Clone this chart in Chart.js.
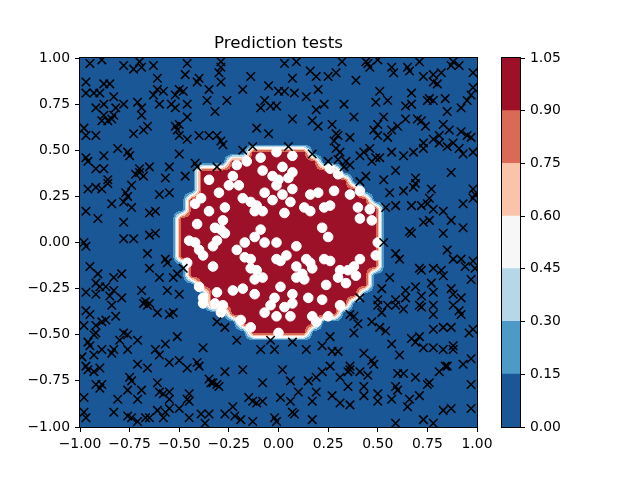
<!DOCTYPE html>
<html>
<head>
<meta charset="utf-8">
<script src="https://cdn.jsdelivr.net/npm/chart.js@4.4.0/dist/chart.umd.min.js"></script>
<style>
html, body { margin: 0; padding: 0; background: #fff; }
#wrap { position: relative; width: 640px; height: 480px; }
#main { position: absolute; left: 0; top: 0; }
#cbar { position: absolute; left: 480px; top: 0; }
</style>
</head>
<body>
<div id="wrap">
<canvas id="main" width="640" height="480"></canvas>
<canvas id="cbar" width="160" height="480"></canvas>
</div>
<script>
// contour levels and colours (RdBu_r)
const levels = [0, 0.15, 0.3, 0.45, 0.6, 0.75, 0.9, 1.05];
const levelColors = ["#195797", "#4e9ac7", "#b6d7e8", "#f7f7f7", "#f9c4a9", "#da6a55", "#9d1128"];

// tick labels
const xTicks = [-1, -0.75, -0.5, -0.25, 0, 0.25, 0.5, 0.75, 1];
const yTicks = [-1, -0.75, -0.5, -0.25, 0, 0.25, 0.5, 0.75, 1];
const cbTicks = [0, 0.15, 0.3, 0.45, 0.6, 0.75, 0.9, 1.05];

// prediction grid: 40 x 40 nodes on [-1, 1], value 1 inside these column ranges
const gridStart = -1;
const gridStep = 2 / 39;
const gridCount = 40;
const maskRows  = [10, 11, 12, 13, 14, 15, 16, 17, 18, 19, 20, 21, 22, 23, 24, 25, 26, 27, 28, 29];
const maskFirst = [17, 16, 15, 13, 13, 12, 11, 11, 10, 10, 10, 10, 10, 11, 11, 12, 12, 12, 15, 17];
const maskLast  = [22, 23, 25, 26, 27, 28, 28, 29, 29, 29, 29, 29, 29, 29, 28, 27, 26, 25, 23, 22];

// test points predicted 0 (x markers)
const crossPoints = [
  [-0.95,0.97],[-0.89,0.99],[-0.78,0.96],[-0.70,0.98],[-0.69,0.95],[-0.73,0.94],[-0.63,0.96],[-0.46,0.97],[-0.47,0.91],[-0.40,0.89],
  [-0.41,0.87],[-0.97,0.87],[-0.88,0.86],[-0.85,0.86],[-0.61,0.89],[-0.35,0.83],[-0.97,0.81],[-0.93,0.81],[-0.90,0.81],[-0.83,0.79],
  [-0.63,0.80],[-0.61,0.83],[-0.58,0.82],[-0.50,0.83],[-0.52,0.80],[-0.48,0.82],[-0.36,0.77],[-0.92,0.73],[-0.88,0.75],[-0.82,0.73],
  [-0.78,0.75],[-0.71,0.76],[-0.69,0.73],[-0.60,0.75],[-0.54,0.75],[-0.52,0.73],[-0.46,0.75],[-0.88,0.69],[-0.84,0.67],[-0.83,0.69],
  [-0.86,0.66],[-0.89,0.66],[-0.69,0.69],[-0.46,0.68],[-0.50,0.64],[-0.52,0.63],[-0.51,0.61],[-0.66,0.63],[-0.68,0.61],[-0.73,0.59],
  [-0.98,0.62],[-0.97,0.58],[-0.92,0.58],[-0.50,0.58],[-0.46,0.56],[-0.40,0.58],[-0.35,0.58],[-0.81,0.51],[-0.76,0.49],[-0.75,0.47],
  [-0.88,0.47],[-0.50,0.48],[-0.97,0.46],[-0.96,0.44],[-0.92,0.40],[-0.88,0.40],[-0.70,0.40],[-0.65,0.41],[-0.55,0.41],[-0.42,0.43],
  [-0.41,0.41],[-0.72,0.37],[-0.70,0.38],[-0.68,0.36],[-0.57,0.35],[-0.47,0.36],[-0.86,0.34],
  [-0.29,0.98],[-0.29,0.95],[-0.30,0.92],[-0.29,0.87],[-0.32,0.71],[-0.26,0.77],[-0.18,0.83],[-0.14,0.90],[-0.05,0.85],[0.00,0.82],
  [0.03,0.82],[0.08,0.81],[0.07,0.89],[0.03,0.97],[0.09,0.98],[0.16,0.93],[0.19,0.90],[0.25,0.90],[0.29,0.92],[0.32,0.98],
  [0.20,0.83],[0.14,0.79],[-0.07,0.77],[-0.09,0.73],[-0.04,0.74],[-0.01,0.74],[0.07,0.67],[0.19,0.72],[0.23,0.75],[0.33,0.75],
  [0.17,0.66],[0.20,0.63],[-0.11,0.62],[-0.05,0.59],[0.27,0.64],[0.29,0.59],[0.30,0.58],[0.28,0.55],[-0.31,0.58],[-0.29,0.55],
  [-0.28,0.53],[-0.18,0.50],[-0.13,0.52],[0.05,0.52],[0.17,0.48],[0.29,0.51],[0.31,0.49],[0.30,0.45],[0.25,0.44],[0.33,0.41],
  [-0.31,0.41],
  [0.44,0.98],[0.46,0.95],[0.50,0.99],[0.45,0.97],[0.57,0.95],[0.58,0.92],[0.65,0.95],[0.66,0.93],[0.71,0.98],[0.88,0.98],
  [0.91,0.96],[0.87,0.96],[0.39,0.88],[0.73,0.90],[0.78,0.91],[0.82,0.92],[0.78,0.87],[0.80,0.86],[0.98,0.92],[0.51,0.82],
  [0.55,0.77],[0.49,0.76],[0.67,0.81],[0.64,0.74],[0.67,0.75],[0.75,0.77],[0.78,0.77],[0.76,0.78],[0.84,0.78],[0.92,0.73],
  [0.95,0.77],[0.97,0.80],[0.98,0.84],[0.85,0.71],[0.38,0.68],[0.53,0.68],[0.50,0.64],[0.48,0.61],[0.50,0.58],[0.55,0.57],
  [0.57,0.61],[0.60,0.63],[0.64,0.67],[0.70,0.67],[0.72,0.66],[0.74,0.63],[0.83,0.64],[0.86,0.61],[0.81,0.58],[0.92,0.60],
  [0.95,0.58],[0.97,0.57],[0.36,0.57],[0.78,0.56],[0.73,0.54],[0.73,0.51],[0.81,0.54],[0.85,0.52],[0.88,0.54],[0.91,0.51],
  [0.98,0.49],[0.93,0.48],[0.46,0.51],[0.49,0.46],[0.47,0.44],[0.41,0.47],[0.43,0.49],[0.57,0.49],[0.63,0.47],[0.68,0.49],
  [0.36,0.42],[0.34,0.44],[0.44,0.36],[0.59,0.39],[0.69,0.35],[0.87,0.38],[0.51,0.46],
  [-0.96,0.29],[-0.92,0.30],[-0.89,0.29],[-0.86,0.32],[-0.74,0.31],[-0.77,0.27],[-0.76,0.25],[-0.78,0.22],[-0.74,0.19],[-0.84,0.21],
  [-0.97,0.17],[-0.91,0.13],[-0.78,0.11],[-0.65,0.16],[-0.62,0.17],[-0.60,0.26],[-0.55,0.27],[-0.78,0.02],[-0.73,0.02],[-0.65,0.04],
  [-0.62,0.05],[-0.98,0.00],[-0.97,-0.02],[-0.66,-0.06],[-0.57,-0.09],[-0.56,-0.11],[-0.95,-0.13],[-0.91,-0.17],[-0.83,-0.19],[-0.79,-0.17],
  [-0.65,-0.14],[-0.60,-0.19],[-0.53,-0.19],[-0.51,-0.17],[-0.48,-0.14],[-0.92,-0.22],[-0.90,-0.24],[-0.87,-0.24],[-0.83,-0.26],[-0.97,-0.27],
  [-0.69,-0.26],[-0.56,-0.26],[-0.50,-0.28],[-0.79,-0.30],[-0.85,-0.29],[-0.92,-0.28],[-0.67,-0.32],[-0.65,-0.33],
  [0.41,0.33],[0.53,0.34],[0.69,0.32],[0.68,0.30],[0.56,0.27],[0.63,0.28],[0.77,0.29],[0.76,0.24],[0.75,0.21],[0.78,0.18],
  [0.83,0.17],[0.87,0.12],[0.59,0.20],[0.54,0.19],[0.67,0.20],[0.72,0.20],[0.73,0.11],[0.76,0.12],[0.66,0.06],[0.67,0.05],
  [0.83,0.05],[0.93,0.08],[0.98,0.24],[0.98,0.29],[0.99,0.26],[0.93,0.21],[0.53,0.00],[0.59,-0.06],[0.61,-0.09],[0.85,-0.04],
  [0.88,-0.09],[0.92,-0.09],[0.94,-0.13],[0.98,-0.10],[0.99,-0.14],[0.71,-0.14],[0.72,-0.15],[0.78,-0.14],[0.82,-0.15],[0.83,-0.18],
  [0.56,-0.19],[0.77,-0.22],[0.69,-0.24],[0.64,-0.26],[0.52,-0.25],[0.87,-0.25],[0.88,-0.28],[0.92,-0.30],[0.78,-0.27],[0.72,-0.29],
  [0.97,-0.20],[0.64,-0.30],[0.59,-0.31],[0.50,-0.31],[0.41,-0.30],
  [-0.97,-0.37],[-0.95,-0.39],[-0.84,-0.34],[-0.82,-0.40],[-0.68,-0.33],[-0.66,-0.34],[-0.61,-0.38],[-0.55,-0.39],[-0.53,-0.38],[-0.98,-0.45],
  [-0.92,-0.45],[-0.92,-0.49],[-0.89,-0.43],[-0.87,-0.42],[-0.93,-0.50],[-0.96,-0.54],[-0.95,-0.56],[-0.78,-0.49],[-0.76,-0.50],[-0.80,-0.53],
  [-0.71,-0.53],[-0.51,-0.51],[-0.38,-0.57],[-0.99,-0.62],[-0.93,-0.61],[-0.89,-0.58],[-0.84,-0.60],[-0.83,-0.58],[-0.76,-0.58],[-0.62,-0.58],
  [-0.60,-0.61],[-0.57,-0.55],[-0.55,-0.65],[-0.50,-0.64],[-0.46,-0.68],[-0.41,-0.65],[-0.40,-0.67],[-0.71,-0.66],[-0.66,-0.68],[-0.97,-0.67],
  [-0.96,-0.69],[-0.90,-0.68],[-0.93,-0.70],[-0.75,-0.73],[-0.74,-0.75],[-0.61,-0.76],[-0.92,-0.77],[-0.89,-0.77],[-0.90,-0.79],[-0.76,-0.80],
  [-0.69,-0.80],[-0.60,-0.81],[-0.58,-0.82],[-0.55,-0.81],[-0.81,-0.85],[-0.71,-0.85],[-0.55,-0.85],[-0.46,-0.85],[-0.45,-0.82],[-0.45,-0.86],
  [-0.35,-0.74],[-0.34,-0.76],[-0.98,-0.84],[-0.98,-0.92],[-0.97,-0.95],[-0.83,-0.92],[-0.76,-0.94],[-0.74,-0.95],[-0.67,-0.95],[-0.65,-0.95],
  [-0.61,-0.91],[-0.57,-0.92],[-0.55,-0.90],[-0.50,-0.90],[-0.58,-0.95],[-0.45,-0.95],[-0.39,-0.93],[-0.35,-0.93],[-0.37,-0.98],[-0.71,-0.97],
  [-0.31,-0.43],[-0.27,-0.46],[-0.21,-0.53],[-0.09,-0.58],[-0.04,-0.53],[-0.02,-0.58],[0.07,-0.54],[0.14,-0.58],[0.22,-0.56],[0.26,-0.51],
  [0.27,-0.59],[0.30,-0.59],[0.26,-0.67],[0.22,-0.70],[0.19,-0.73],[0.15,-0.75],[0.31,-0.73],[-0.27,-0.70],[-0.18,-0.69],[0.02,-0.69],
  [0.06,-0.75],[-0.08,-0.76],[-0.33,-0.76],[-0.31,-0.77],[-0.30,-0.78],[0.10,-0.81],[0.19,-0.81],[0.27,-0.83],[0.31,-0.87],[0.17,-0.86],
  [-0.15,-0.84],[-0.13,-0.86],[-0.08,-0.86],[-0.11,-0.87],[0.01,-0.84],[0.06,-0.86],[0.07,-0.92],[-0.23,-0.89],[-0.22,-0.94],[-0.19,-0.96],
  [-0.27,-0.93],[-0.13,-0.97],[-0.02,-0.95],[-0.01,-0.97],[0.17,-0.96],[0.08,-0.93],
  [0.36,-0.39],[0.38,-0.40],[0.40,-0.44],[0.38,-0.49],[0.50,-0.34],[0.52,-0.38],[0.55,-0.34],[0.59,-0.34],[0.63,-0.36],[0.71,-0.34],
  [0.72,-0.35],[0.78,-0.34],[0.78,-0.39],[0.88,-0.34],[0.91,-0.37],[0.92,-0.39],[0.47,-0.43],[0.51,-0.46],[0.54,-0.48],[0.57,-0.55],
  [0.61,-0.61],[0.67,-0.52],[0.71,-0.51],[0.69,-0.54],[0.73,-0.57],[0.78,-0.47],[0.78,-0.57],[0.83,-0.58],[0.83,-0.46],[0.87,-0.46],
  [0.88,-0.58],[0.88,-0.56],[0.96,-0.49],[0.98,-0.47],[0.93,-0.66],[0.97,-0.63],[0.43,-0.60],[0.47,-0.64],[0.48,-0.66],[0.36,-0.67],
  [0.36,-0.69],[0.41,-0.70],[0.45,-0.72],[0.35,-0.70],[0.60,-0.71],[0.63,-0.71],[0.69,-0.73],[0.75,-0.77],[0.76,-0.76],[0.81,-0.70],
  [0.84,-0.67],[0.85,-0.67],[0.35,-0.78],[0.43,-0.78],[0.43,-0.83],[0.50,-0.82],[0.50,-0.86],[0.36,-0.88],[0.59,-0.78],[0.60,-0.80],
  [0.57,-0.85],[0.66,-0.85],[0.71,-0.83],[0.97,-0.77],[0.65,-0.89],[0.83,-0.91],[0.87,-0.90],[0.97,-0.90],[0.59,-0.98],[0.73,-0.96],
  [0.78,-0.98]
];

// test points predicted 1 (white dots)
const dotPoints = [
  [-0.09,0.46],[-0.01,0.49],[0.07,0.47],[-0.16,0.44],[-0.21,0.42],[-0.08,0.39],[-0.03,0.36],[0.02,0.41],[0.07,0.38],[0.00,0.34],
  [-0.35,0.34],[0.26,0.40],[0.30,0.37],[-0.23,0.36],[0.05,0.35],
  [-0.30,0.27],[-0.25,0.31],[-0.20,0.31],[-0.27,0.19],[-0.18,0.24],[-0.14,0.22],[-0.11,0.20],[-0.12,0.17],[-0.08,0.17],[-0.07,0.27],
  [-0.03,0.23],[-0.01,0.31],[0.02,0.26],[0.07,0.29],[0.06,0.22],[0.03,0.16],[0.16,0.26],[0.20,0.27],[0.28,0.28],[0.26,0.20],
  [0.23,0.19],[0.13,0.19],[0.16,0.17],[-0.28,0.12],[-0.32,0.08],[-0.29,0.07],[-0.27,0.05],[-0.31,0.01],[-0.33,-0.02],[0.22,0.08],
  [0.25,0.03],[-0.09,0.07],[-0.12,0.03],[-0.07,0.00],[-0.17,0.00],[-0.01,0.00],[-0.21,-0.04],[-0.17,-0.08],[-0.14,-0.09],[-0.01,-0.09],
  [0.04,-0.07],[0.09,-0.02],[0.01,-0.10],[0.09,-0.13],[0.14,-0.09],[0.16,-0.11],[0.23,-0.09],[0.26,-0.10],[-0.14,-0.14],[-0.11,-0.15],
  [-0.08,-0.19],[-0.12,-0.20],[0.17,-0.14],[0.12,-0.17],[0.09,-0.19],[0.13,-0.20],[0.24,-0.23],[0.30,-0.19],[0.31,-0.15],[0.01,-0.24],
  [-0.23,-0.26],[-0.18,-0.25],[-0.12,-0.28],[-0.02,-0.30],[0.07,-0.28],[0.15,-0.30],[0.22,-0.31],[-0.33,-0.13],[-0.31,-0.27],
  [-0.39,0.24],[-0.42,0.21],[-0.35,0.17],[-0.41,0.10],[-0.45,0.01],[-0.42,0.00],[-0.40,-0.04],[-0.38,-0.07],[-0.46,-0.11],[-0.40,-0.24],
  [-0.38,-0.30],
  [0.36,0.26],[0.41,0.28],[0.40,0.19],[0.41,0.13],[0.46,0.18],[0.47,0.12],[0.50,0.00],[0.49,-0.07],[0.41,-0.09],[0.38,-0.13],
  [0.35,-0.15],[0.39,-0.18],[0.34,-0.22],
  [-0.28,-0.34],[-0.29,-0.38],[-0.19,-0.42],[-0.14,-0.46],[-0.07,-0.38],[-0.04,-0.34],[-0.01,-0.40],[0.03,-0.35],[0.06,-0.40],[0.00,-0.49],
  [0.07,-0.33],[0.17,-0.40],[0.19,-0.43],[0.25,-0.40],[0.31,-0.34],[-0.38,-0.33],[-0.32,-0.33]
];

function fmt(v) {
  return v.toFixed(2).replace("-", "\u2212");
}

Chart.defaults.font.family = "DejaVu Sans";
Chart.defaults.font.size = 13.9;
Chart.defaults.color = "#000";

// grid values
const grid = [];
for (let j = 0; j < gridCount; j++) {
  const row = [];
  const r = maskRows.indexOf(j);
  for (let i = 0; i < gridCount; i++) {
    row.push(r >= 0 && i >= maskFirst[r] && i <= maskLast[r] ? 1 : 0);
  }
  grid.push(row);
}

function hexToRgb(h) {
  return [parseInt(h.slice(1, 3), 16), parseInt(h.slice(3, 5), 16), parseInt(h.slice(5, 7), 16)];
}
const levelRgb = levelColors.map(hexToRgb);

function cellPos(v) {
  let f = (v - gridStart) / gridStep;
  let i = Math.floor(f);
  if (i < 0) i = 0;
  if (i > gridCount - 2) i = gridCount - 2;
  let t = f - i;
  if (t < 0) t = 0;
  if (t > 1) t = 1;
  return [i, t];
}

// filled contours, drawn under the scatter points
const contourPlugin = {
  id: "contourFill",
  beforeDatasetsDraw(chart) {
    const ctx = chart.ctx;
    const a = chart.chartArea;
    const xs = chart.scales.x, ys = chart.scales.y;
    const w = Math.round(a.right - a.left), h = Math.round(a.bottom - a.top);
    const off = document.createElement("canvas");
    off.width = w; off.height = h;
    const octx = off.getContext("2d");
    const img = octx.createImageData(w, h);
    const cols = [];
    for (let c = 0; c < w; c++) cols.push(cellPos(xs.getValueForPixel(a.left + c + 0.5)));
    for (let r = 0; r < h; r++) {
      const [j, ty] = cellPos(ys.getValueForPixel(a.top + r + 0.5));
      for (let c = 0; c < w; c++) {
        const [i, tx] = cols[c];
        const v = grid[j][i] * (1 - tx) * (1 - ty) + grid[j][i + 1] * tx * (1 - ty) +
                  grid[j + 1][i] * (1 - tx) * ty + grid[j + 1][i + 1] * tx * ty;
        let b = 0;
        while (b < levelRgb.length - 1 && v > levels[b + 1]) b++;
        const k = (r * w + c) * 4;
        img.data[k] = levelRgb[b][0];
        img.data[k + 1] = levelRgb[b][1];
        img.data[k + 2] = levelRgb[b][2];
        img.data[k + 3] = 255;
      }
    }
    octx.putImageData(img, 0, 0);
    ctx.save();
    ctx.imageSmoothingEnabled = false;
    ctx.drawImage(off, a.left, a.top, w, h);
    ctx.restore();
  }
};

const framePlugin = {
  id: "frame",
  afterDatasetsDraw(chart) {
    const ctx = chart.ctx;
    const a = chart.chartArea;
    ctx.save();
    ctx.strokeStyle = "#000";
    ctx.lineWidth = 1;
    ctx.strokeRect(Math.round(a.left) - 0.5, Math.round(a.top) - 0.5,
                   Math.round(a.right - a.left) + 1, Math.round(a.bottom - a.top) + 1);
    ctx.restore();
  }
};

const tickGrid = { display: true, drawOnChartArea: false, drawTicks: true, tickLength: 5, color: "#000" };

new Chart(document.getElementById("main"), {
  type: "scatter",
  data: {
    datasets: [{
      label: "0",
      data: crossPoints.map(p => ({ x: p[0], y: p[1] })),
      pointStyle: "crossRot",
      pointRadius: 6,
      borderColor: "#000",
      backgroundColor: "#000",
      borderWidth: 1.5,
      clip: 0
    }, {
      label: "1",
      data: dotPoints.map(p => ({ x: p[0], y: p[1] })),
      pointStyle: "circle",
      pointRadius: 4.8,
      borderColor: "#fff",
      backgroundColor: "#fff",
      borderWidth: 1,
      clip: 0
    }]
  },
  options: {
    responsive: false,
    animation: false,
    events: [],
    layout: { padding: { left: 0, right: 163, top: 0, bottom: 0 } },
    plugins: {
      legend: { display: false },
      tooltip: { enabled: false },
      title: {
        display: true,
        text: "Prediction tests",
        fullSize: false,
        color: "#000",
        font: { size: 16.7, weight: "normal" },
        padding: { top: 34, bottom: 4 }
      }
    },
    scales: {
      x: {
        type: "linear", min: -1, max: 1,
        afterBuildTicks: s => { s.ticks = xTicks.map(v => ({ value: v })); },
        afterFit: s => { s.height = 53; },
        ticks: { callback: v => fmt(v), padding: 4, maxRotation: 0, autoSkip: false },
        grid: tickGrid,
        border: { display: false }
      },
      y: {
        type: "linear", min: -1, max: 1,
        afterBuildTicks: s => { s.ticks = yTicks.map(v => ({ value: v })); },
        afterFit: s => { s.width = 80; },
        ticks: { callback: v => fmt(v), padding: 5, autoSkip: false },
        grid: tickGrid,
        border: { display: false }
      }
    }
  },
  plugins: [contourPlugin, framePlugin]
});

// colorbar: one stacked bar, one segment per contour band
new Chart(document.getElementById("cbar"), {
  type: "bar",
  data: {
    labels: [""],
    datasets: levelColors.map((c, i) => ({
      label: fmt(levels[i]),
      data: [[levels[i], levels[i + 1]]],
      backgroundColor: c,
      borderWidth: 0,
      inflateAmount: 0.5,
      barPercentage: 1,
      categoryPercentage: 1,
      grouped: false,
      clip: false
    }))
  },
  options: {
    responsive: false,
    animation: false,
    events: [],
    layout: { padding: { left: 22, right: 0, top: 58, bottom: 53 } },
    plugins: { legend: { display: false }, tooltip: { enabled: false } },
    scales: {
      x: { display: false },
      y: {
        position: "right", min: 0, max: 1.05,
        afterBuildTicks: s => { s.ticks = cbTicks.map(v => ({ value: v })); },
        afterFit: s => { s.width = 120; },
        ticks: { callback: v => fmt(v), padding: 5, autoSkip: false },
        grid: tickGrid,
        border: { display: false }
      }
    }
  },
  plugins: [framePlugin]
});
</script>
</body>
</html>
